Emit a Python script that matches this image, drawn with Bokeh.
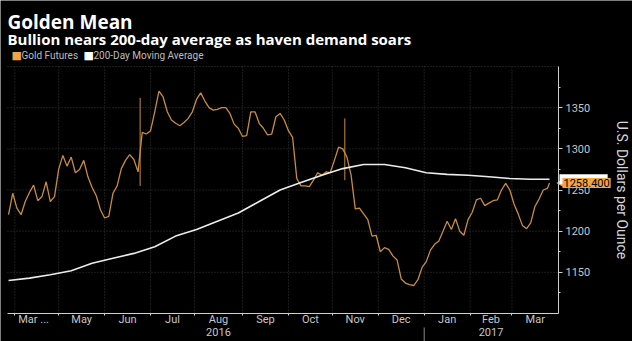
import math
import pandas as pd
from bokeh.plotting import figure
from bokeh.models import Range1d, FixedTicker, Label
from bokeh.embed import file_html
from bokeh.resources import INLINE

# ---------------- data ----------------
title_text = "Golden Mean"
subtitle_text = "Bullion nears 200-day average as haven demand soars"
series_names = ["Gold Futures", "200-Day Moving Average"]
axis_title = "U.S. Dollars per Ounce"

start_date = "2016-03-29"
end_date = "2017-03-27"

# gold futures, one reading every 2nd business day from start_date
gold_step = 2
gold_values = [1220, 1246, 1228, 1220, 1236, 1247, 1256, 1237, 1242, 1260,
               1236, 1242, 1275, 1292, 1279, 1290, 1271, 1275, 1286, 1266,
               1253, 1243, 1226, 1216, 1218, 1246, 1255, 1276, 1286, 1293,
               1287, 1272, 1320, 1318, 1322, 1345, 1370, 1363, 1345, 1335,
               1331, 1328, 1332, 1337, 1345, 1360, 1368, 1358, 1350, 1347,
               1348, 1350, 1350, 1343, 1330, 1325, 1315, 1316, 1345, 1345,
               1331, 1325, 1317, 1318, 1339, 1343, 1335, 1322, 1314, 1264,
               1255, 1255, 1254, 1262, 1271, 1268, 1272, 1271, 1286, 1302,
               1300, 1290, 1268, 1227, 1228, 1221, 1214, 1194, 1195, 1175,
               1180, 1178, 1170, 1165, 1142, 1137, 1135, 1134, 1141, 1156,
               1163, 1177, 1184, 1188, 1200, 1212, 1202, 1215, 1200, 1195,
               1214, 1223, 1238, 1240, 1231, 1234, 1237, 1238, 1250, 1258,
               1250, 1233, 1221, 1207, 1203, 1210, 1230, 1239, 1250, 1252]
gold_last = 1258.4

# 200-day moving average, one reading every 10th business day
ma_step = 10
ma_values = [1140, 1143, 1147, 1152, 1161, 1167, 1173, 1181, 1194, 1202,
             1212, 1222, 1236, 1250, 1259, 1268, 1276, 1281, 1281, 1277,
             1271, 1269, 1268, 1266, 1264, 1263]
ma_last = 1263

# intraday spikes
spike_dates = ["2016-06-24", "2016-11-09"]
spike_lows = [1255, 1262]
spike_highs = [1362, 1337]

month_labels = ["Mar ...", "May", "Jun", "Jul", "Aug\n2016", "Sep", "Oct",
                "Nov", "Dec", "Jan", "Feb\n2017", "Mar"]
y_ticks = [1150, 1200, 1250, 1300, 1350]
y_minor = [1125, 1175, 1225, 1275, 1325, 1375]
y_grid = [1150, 1200, 1250, 1300, 1350, 1400]
y_lo, y_hi = 1100, 1400

# ---------------- derived positions ----------------
bdays = pd.bdate_range(start_date, end_date)
n = len(bdays)
gold_x = list(range(0, gold_step * len(gold_values), gold_step)) + [n - 1]
gold_y = gold_values + [gold_last]
ma_x = list(range(0, ma_step * len(ma_values), ma_step)) + [n - 1]
ma_y = ma_values + [ma_last]
spike_x = [int(bdays.searchsorted(pd.Timestamp(d))) for d in spike_dates]

x_lo, x_hi = -0.5, n + 3.3      # extent of the x axis

month_starts = []
months = bdays.to_period("M")
for i in range(1, n):
    if months[i] != months[i - 1]:
        month_starts.append(i)
bounds = [0] + month_starts[1:] + [x_hi]
label_pos = [(bounds[i] + bounds[i + 1]) / 2 for i in range(len(bounds) - 1)]
overrides = {lp: lab for lp, lab in zip(label_pos, month_labels)}
jan_start = month_starts[month_labels.index("Jan")]

# ---------------- layout geometry (pixels) ----------------
W, H = 632, 341
AX_L, AX_R, AX_T, AX_B = 7, 558, 66, 313     # plotting area inside the canvas
kx = (AX_R - AX_L) / (x_hi - x_lo)
ky = (AX_B - AX_T) / (y_hi - y_lo)
x_range = Range1d(x_lo - AX_L / kx, x_hi + (W - AX_R) / kx)
y_range = Range1d(y_lo - (H - AX_B) / ky, y_hi + AX_T / ky)

GOLD = "#c98c3f"
GOLD_KEY = "#f2a446"
WHITE = "#ececec"
TXT = "#c6c6c6"
GRID = "#3a3a3a"
AXIS = "#d0d0d0"
FONT = "Roboto"

p = figure(width=W, height=H, output_backend="svg", toolbar_location=None,
           title=None, x_range=x_range, y_range=y_range,
           y_axis_location="right", background_fill_color="black",
           border_fill_color="black", outline_line_color=None,
           min_border_left=0, min_border_right=0, min_border_top=0,
           min_border_bottom=0)
p.grid.visible = False

# grid lines limited to the plotting area
p.segment(x0=month_starts, x1=month_starts, y0=y_lo, y1=y_hi,
          line_color=GRID, line_dash="1 2", line_width=1)
p.segment(x0=x_lo, x1=x_hi, y0=y_grid, y1=y_grid,
          line_color=GRID, line_dash="1 2", line_width=1)
# year separator below the axis
p.segment(x0=[jan_start], x1=[jan_start], y0=y_range.start,
          y1=y_lo - 14 / ky, line_color="#888888", line_width=1)

# x axis at the bottom of the plotting area
xa = p.xaxis[0]
xa.fixed_location = y_lo
xa.bounds = (x_lo, x_hi)
xa.ticker = FixedTicker(ticks=label_pos, minor_ticks=month_starts)
xa.major_label_overrides = overrides
xa.major_tick_line_color = None
xa.major_tick_out = 0
xa.major_tick_in = 0
xa.minor_tick_line_color = AXIS
xa.minor_tick_out = 2
xa.minor_tick_in = 0
xa.axis_line_color = AXIS
xa.major_label_text_color = TXT
xa.major_label_text_font = FONT
xa.major_label_text_font_size = "11px"
xa.major_label_text_line_height = 1.0
xa.major_label_standoff = -3

# y axis on the right edge of the plotting area
ya = p.yaxis[0]
ya.fixed_location = x_hi
ya.bounds = (y_lo, y_hi)
ya.ticker = FixedTicker(ticks=y_ticks, minor_ticks=y_minor)
ya.major_tick_out = 4
ya.major_tick_in = 0
ya.minor_tick_out = 2
ya.minor_tick_in = 0
ya.major_tick_line_color = AXIS
ya.minor_tick_line_color = AXIS
ya.axis_line_color = AXIS
ya.major_label_text_color = TXT
ya.major_label_text_font = FONT
ya.major_label_text_font_size = "11px"
ya.major_label_standoff = 3
ya.axis_label = axis_title
ya.axis_label_text_color = "#d8d8d8"
ya.axis_label_text_font = FONT
ya.axis_label_text_font_style = "normal"
ya.axis_label_text_font_size = "14px"
ya.axis_label_standoff = 21

# data
p.segment(x0=spike_x, x1=spike_x, y0=spike_lows, y1=spike_highs,
          line_color=GOLD, line_width=1)
p.line(x=gold_x, y=gold_y, line_color=GOLD, line_width=1.3)
p.line(x=ma_x, y=ma_y, line_color=WHITE, line_width=1.6)


def canvas_label(x, y, text, **kw):
    p.add_layout(Label(x=x, y=y, x_units="canvas", y_units="canvas",
                       text=text, **kw))


# titles
canvas_label(7, 21, title_text, text_color="white", text_font="Open Sans",
             text_font_style="bold", text_font_size="19px",
             text_baseline="alphabetic")
canvas_label(7, 38, subtitle_text, text_color="white", text_font="Open Sans",
             text_font_style="bold", text_font_size="15px",
             text_baseline="alphabetic")

# legend keys and texts
canvas_label(11, 55, "\u25a0", text_color=GOLD_KEY, text_font="DejaVu Sans",
             text_font_size="11px", text_baseline="middle")
canvas_label(21, 55, series_names[0], text_color="#bdbdbd", text_font=FONT,
             text_font_size="10px", text_baseline="middle")
canvas_label(83, 55, "\u25a0", text_color="white", text_font="DejaVu Sans",
             text_font_size="11px", text_baseline="middle")
canvas_label(93, 55, series_names[1], text_color="#bdbdbd", text_font=FONT,
             text_font_size="10px", text_baseline="middle")

# value tags beside the right axis
p.add_layout(Label(x=x_hi, y=ma_last, x_offset=1, text=f"{ma_last:.3f}",
                   text_color="white", background_fill_color="white",
                   text_font=FONT, text_font_size="11px",
                   text_baseline="middle", padding=1))
p.scatter(x=[x_hi + 3 / kx], y=[gold_last], marker="triangle", size=9,
          angle=math.pi / 2, color=GOLD_KEY, line_color=None)
p.add_layout(Label(x=x_hi, y=gold_last, x_offset=4, text=f"{gold_last:.3f}",
                   text_color="black", background_fill_color=GOLD_KEY,
                   text_font=FONT, text_font_size="11px",
                   text_baseline="middle", padding=1))

open("out.html", "w").write(file_html(p, INLINE))
